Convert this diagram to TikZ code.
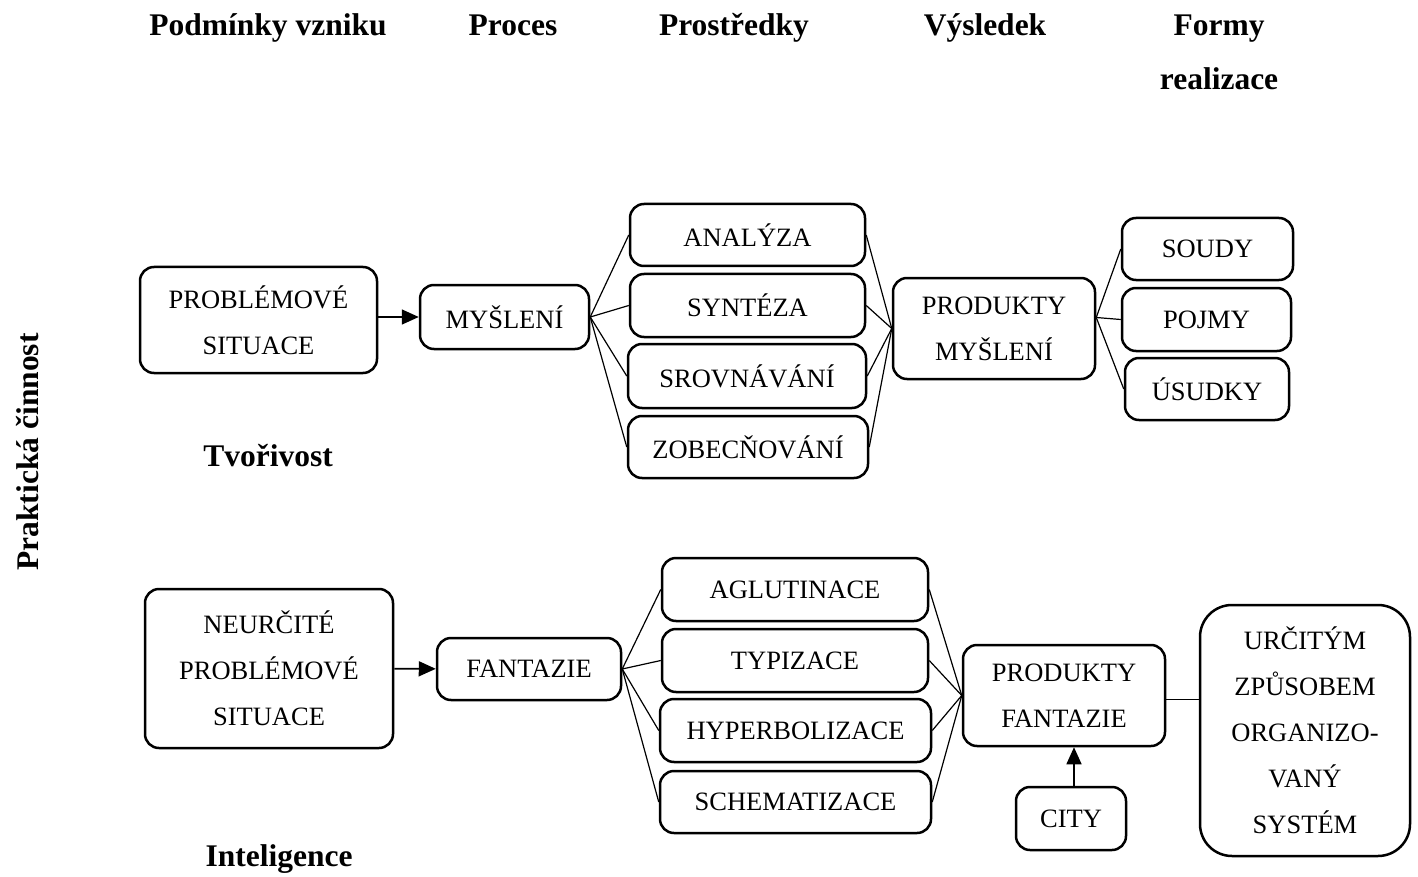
\documentclass[tikz,border=0pt]{standalone}
\usepackage{fontspec}
\setmainfont{Liberation Serif}
\usetikzlibrary{arrows.meta}
\begin{document}
\begin{tikzpicture}[x=1pt,y=-1pt,
  rbox/.style={draw, line width=2.5pt, rounded corners=14pt, inner sep=0pt, align=center,
    font=\fontsize{26.5}{46}\selectfont},
  hdr/.style={font=\bfseries\fontsize{31.5}{54}\selectfont, align=center, inner sep=0pt},
  conn/.style={line width=1.2pt},
  arr/.style={line width=1.6pt, -{Triangle[length=17pt,width=15pt]}}
]
\useasboundingbox (0,0) rectangle (1418,877);

% headers
\node[hdr, anchor=base] (h1) at (268,36) {Podmínky vzniku};
\node[hdr, anchor=base] (h2) at (513,36) {Proces};
\node[hdr, anchor=base] (h3) at (734,36) {Prostředky};
\node[hdr, anchor=base] (h4) at (985,36) {Výsledek};
\node[hdr, anchor=base] (h5) at (1219,36) {Formy};
\node[hdr, anchor=base] (h6) at (1219,90) {realizace};
\node[hdr, rotate=90] (side) at (28,452) {Praktická činnost};
\node[hdr, anchor=base] (tv) at (268,466) {Tvořivost};
\node[hdr, anchor=base] (in) at (279,866) {Inteligence};

% top row
\node[rbox, minimum width=237pt, minimum height=106pt] (ps) at (258.5,320) {PROBLÉMOVÉ\\SITUACE};
\node[rbox, minimum width=169pt, minimum height=64pt] (my) at (504.5,317) {MYŠLENÍ};
\node[rbox, minimum width=235pt, minimum height=62pt] (an) at (747.5,235) {ANALÝZA};
\node[rbox, minimum width=235pt, minimum height=63pt] (sy) at (747.5,305.5) {SYNTÉZA};
\node[rbox, minimum width=238pt, minimum height=64pt] (sr) at (747,376) {SROVNÁVÁNÍ};
\node[rbox, minimum width=240pt, minimum height=62pt] (zo) at (748,447) {ZOBECŇOVÁNÍ};
\node[rbox, minimum width=202pt, minimum height=101pt] (pm) at (994,328.5) {PRODUKTY\\MYŠLENÍ};
\node[rbox, minimum width=171pt, minimum height=62pt] (so) at (1207.5,249) {SOUDY};
\node[rbox, minimum width=169pt, minimum height=63pt] (po) at (1206.5,319.5) {POJMY};
\node[rbox, minimum width=164pt, minimum height=62pt] (us) at (1207,389) {ÚSUDKY};

\draw[arr] ([yshift=3pt]ps.east) -- ([yshift=3pt]ps.east -| my.west);
\foreach \b in {an,sy,sr,zo} {
  \draw[conn] (my.east) -- (\b.west);
  \draw[conn] (\b.east) -- (pm.west);
}
\foreach \b in {so,po,us} {
  \draw[conn] ([yshift=11pt]pm.east) -- (\b.west);
}

% bottom row
\node[rbox, minimum width=248pt, minimum height=159pt] (np) at (269,668.5) {NEURČITÉ\\PROBLÉMOVÉ\\SITUACE};
\node[rbox, minimum width=184pt, minimum height=62pt] (fa) at (529,669) {FANTAZIE};
\node[rbox, minimum width=266pt, minimum height=63pt] (ag) at (795,589.5) {AGLUTINACE};
\node[rbox, minimum width=266pt, minimum height=63pt] (ty) at (795,660.5) {TYPIZACE};
\node[rbox, minimum width=271pt, minimum height=63pt] (hy) at (795.5,730.5) {HYPERBOLIZACE};
\node[rbox, minimum width=271pt, minimum height=62pt] (sc) at (795.5,802) {SCHEMATIZACE};
\node[rbox, minimum width=202pt, minimum height=101pt] (pf) at (1064,695.5) {PRODUKTY\\FANTAZIE};
\node[rbox, minimum width=110pt, minimum height=63pt] (ci) at (1071,818.5) {CITY};
\node[rbox, rounded corners=32pt, minimum width=210pt, minimum height=251pt] (ur) at (1305,730.5)
  {URČITÝM\\ZPŮSOBEM\\ORGANIZO-\\VANÝ\\SYSTÉM};

\draw[arr] (np) -- (fa);
\foreach \b in {ag,ty,hy,sc} {
  \draw[conn] (fa.east) -- (\b.west);
  \draw[conn] (\b.east) -- (pf.west);
}
\draw[conn] ([yshift=-4pt]pf.east) -- ([yshift=-4pt]pf.east -| ur.west);
\draw[arr] ([xshift=3pt]ci.north) -- ([xshift=3pt]ci.north |- pf.south);
\end{tikzpicture}
\end{document}
